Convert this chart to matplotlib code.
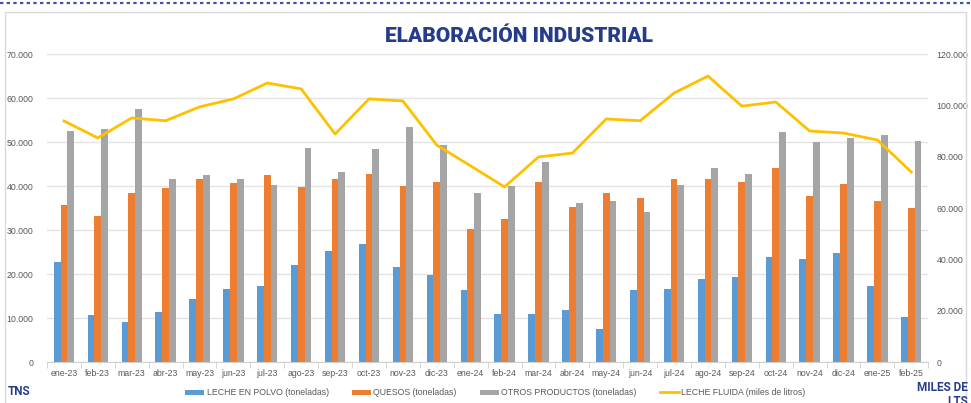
import numpy as np
import matplotlib.pyplot as plt
from matplotlib.patches import Rectangle
from matplotlib.lines import Line2D
from matplotlib.ticker import FuncFormatter

meses = ["ene-23", "feb-23", "mar-23", "abr-23", "may-23", "jun-23", "jul-23", "ago-23",
         "sep-23", "oct-23", "nov-23", "dic-23", "ene-24", "feb-24", "mar-24", "abr-24",
         "may-24", "jun-24", "jul-24", "ago-24", "sep-24", "oct-24", "nov-24", "dic-24",
         "ene-25", "feb-25"]

leche_polvo = [22700, 10700, 9200, 11300, 14300, 16500, 17300, 22000, 25300, 26800, 21700, 19700,
               16400, 10900, 10800, 11900, 7500, 16300, 16600, 18800, 19400, 23800, 23500, 24800,
               17300, 10300]
quesos = [35700, 33100, 38500, 39500, 41500, 40700, 42600, 39800, 41600, 42800, 40000, 41000,
          30200, 32500, 40900, 35200, 38500, 37300, 41500, 41700, 41000, 44100, 37700, 40400,
          36500, 35000]
otros = [52400, 52900, 57500, 41700, 42400, 41500, 40300, 48600, 43100, 48400, 53400, 49400,
         38300, 39900, 45500, 36100, 36700, 34000, 40300, 44000, 42800, 52200, 50100, 50800,
         51600, 50300]
leche_fluida = [93900, 87300, 95100, 94000, 99400, 102500, 108700, 106400, 88800, 102500, 101700, 84500,
                76400, 68200, 79900, 81400, 94700, 94000, 104800, 111400, 99700, 101300, 90000, 89200,
                86500, 74000]

c_azul = "#5b9bd5"
c_naranja = "#ed7d31"
c_gris = "#a5a5a5"
c_amarillo = "#ffc000"
c_titulo = "#253c8c"
c_texto = "#595959"
fuente_chica = ["Liberation Sans", "DejaVu Sans"]


def miles(v, pos):
    if v == 0:
        return "0"
    return f"{v:,.0f}".replace(",", ".")


fig = plt.figure(figsize=(9.71, 4.03), dpi=100)

# marco y linea punteada superior
fig.add_artist(Line2D([0, 1], [0.993, 0.993], transform=fig.transFigure,
                      color="#3a56b0", linestyle=(0, (1.5, 1.5)), linewidth=1.6))
fig.add_artist(Rectangle((0.005, -0.05), 0.99, 1.02, transform=fig.transFigure,
                         fill=False, edgecolor="#d9d9d9", linewidth=1.0))

ax = fig.add_axes([0.0484, 0.1017, 0.9076, 0.7643])
x = np.arange(len(meses))
w = 0.2
ax.bar(x - w, leche_polvo, w, color=c_azul, label="LECHE EN POLVO (toneladas)")
ax.bar(x, quesos, w, color=c_naranja, label="QUESOS (toneladas)")
ax.bar(x + w, otros, w, color=c_gris, label="OTROS PRODUCTOS (toneladas)")

ax.set_xlim(-0.5, len(meses) - 0.5)
ax.set_ylim(0, 70000)
ax.set_yticks(np.arange(0, 70001, 10000))
ax.yaxis.set_major_formatter(FuncFormatter(miles))
ax.grid(axis="y", color="#e3e3e3", linewidth=1.0)
ax.set_axisbelow(True)
for s in ["top", "right", "left"]:
    ax.spines[s].set_visible(False)
ax.spines["bottom"].set_color("#d0d0d0")
ax.set_xticks(x)
ax.set_xticklabels(meses)
ax.set_xticks(np.arange(-0.5, len(meses), 1), minor=True)
ax.tick_params(axis="x", which="major", length=0, labelsize=6.3, labelcolor=c_texto, pad=5)
ax.tick_params(axis="x", which="minor", length=4, color="#d0d0d0")
ax.tick_params(axis="y", length=0, labelsize=6.3, labelcolor=c_texto, pad=10)

ax2 = ax.twinx()
ax2.plot(x, leche_fluida, color=c_amarillo, linewidth=2.0, label="LECHE FLUIDA (miles de litros)")
ax2.set_ylim(0, 120000)
ax2.set_yticks(np.arange(0, 120001, 20000))
ax2.yaxis.set_major_formatter(FuncFormatter(miles))
for s in ["top", "right", "left", "bottom"]:
    ax2.spines[s].set_visible(False)
ax2.tick_params(axis="y", length=0, labelsize=6.3, labelcolor=c_texto, pad=6)

for lab in ax.get_xticklabels() + ax.get_yticklabels() + ax2.get_yticklabels():
    lab.set_family(fuente_chica)

fig.text(0.535, 0.91, "ELABORACIÓN INDUSTRIAL", ha="center", va="center",
         fontsize=15, fontweight="heavy", color=c_titulo, family="Roboto")
fig.text(0.008, 0.028, "TNS", ha="left", va="center", fontsize=8.5,
         fontweight="bold", color=c_titulo, family="Roboto")
fig.text(0.997, 0.055, "MILES DE\nLTS", ha="right", va="top", fontsize=8.5,
         fontweight="bold", color=c_titulo, family="Roboto", linespacing=1.1)

h1, l1 = ax.get_legend_handles_labels()
h2, l2 = ax2.get_legend_handles_labels()
fig.legend(h1 + h2, l1 + l2, loc="center", bbox_to_anchor=(0.51, 0.025), ncol=4,
           frameon=False, prop={"family": fuente_chica, "size": 6.3}, labelcolor=c_texto,
           handlelength=2.2, handleheight=0.6, columnspacing=2.6, handletextpad=0.3)

fig.savefig("out.png", dpi=100)
